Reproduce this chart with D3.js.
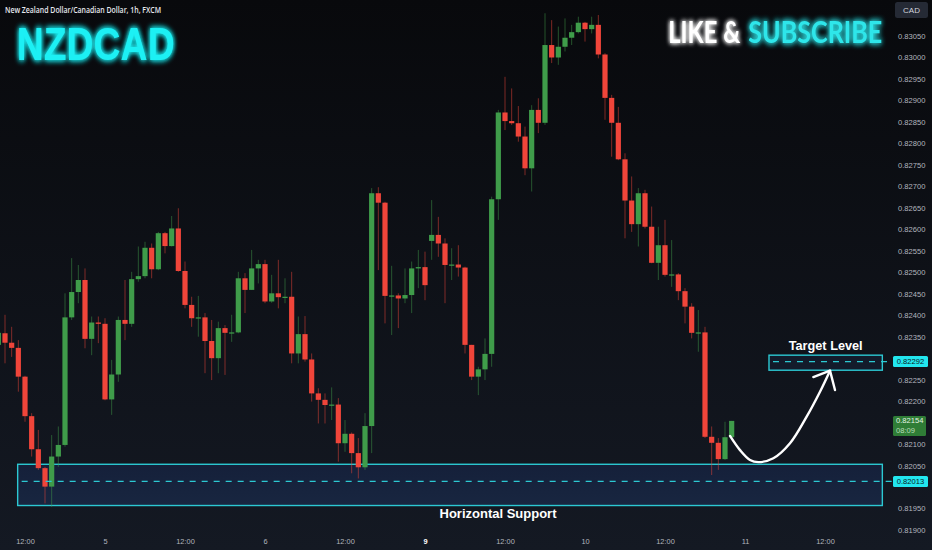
<!DOCTYPE html>
<html><head><meta charset="utf-8">
<script src="https://cdn.jsdelivr.net/npm/d3@7"></script>
<style>html,body{margin:0;padding:0;background:#0c0e13;overflow:hidden}</style>
</head><body><svg id="c" width="932" height="550"></svg>
<script>
// ---------------- DATA ----------------
const startIndex = -4; // hourly bar index of first candle (0 = day 4, 12:00)
const opens = [0.82331,0.82358,0.82336,0.82324,0.82257,0.82165,0.82088,0.82044,0.82001,0.82071,
0.82098,0.82395,0.82454,0.82482,0.82345,0.82383,0.82380,0.82204,0.82262,0.82389,
0.82380,0.82484,0.82491,0.82557,0.82507,0.82591,0.82561,0.82602,0.82503,0.82424,
0.82393,0.82395,0.82340,0.82300,0.82370,0.82359,0.82360,0.82486,0.82459,0.82509,
0.82519,0.82432,0.82451,0.82442,0.82443,0.82311,0.82356,0.82297,0.82218,0.82203,
0.82191,0.82192,0.82102,0.82124,0.82079,0.82046,0.82142,0.82684,0.82662,0.82445,
0.82446,0.82439,0.82447,0.82509,0.82512,0.82573,0.82587,0.82567,0.82517,0.82518,
0.82511,0.82331,0.82257,0.82274,0.82310,0.82670,0.82872,0.82852,0.82847,0.82816,
0.82742,0.82878,0.82848,0.83029,0.83000,0.83025,0.83046,0.83059,0.83081,0.83066,
0.83076,0.83007,0.82906,0.82848,0.82763,0.82667,0.82612,0.82684,0.82606,0.82522,
0.82563,0.82494,0.82495,0.82456,0.82420,0.82359,0.82360,0.82117,0.82103,0.82065,0.82116];
const highs = [0.82366,0.82401,0.82373,0.82342,0.82259,0.82172,0.82133,0.82047,0.82121,0.82141,
0.82451,0.82533,0.82517,0.82509,0.82397,0.82397,0.82393,0.82296,0.82397,0.82482,
0.82501,0.82560,0.82571,0.82567,0.82594,0.82594,0.82631,0.82649,0.82525,0.82443,
0.82445,0.82405,0.82389,0.82385,0.82377,0.82401,0.82501,0.82498,0.82552,0.82529,
0.82529,0.82494,0.82529,0.82486,0.82501,0.82397,0.82398,0.82311,0.82230,0.82218,
0.82232,0.82207,0.82156,0.82127,0.82114,0.82172,0.82696,0.82698,0.82664,0.82515,
0.82451,0.82509,0.82525,0.82552,0.82548,0.82668,0.82629,0.82579,0.82556,0.82563,
0.82513,0.82331,0.82280,0.82346,0.82676,0.82878,0.82955,0.82928,0.82887,0.82839,
0.82889,0.82905,0.83103,0.83087,0.83072,0.83091,0.83076,0.83095,0.83083,0.83095,
0.83099,0.83010,0.82913,0.82885,0.82777,0.82723,0.82696,0.82692,0.82653,0.82606,
0.82622,0.82575,0.82498,0.82463,0.82428,0.82412,0.82373,0.82141,0.82114,0.82152,0.82154];
const lows = [0.82319,0.82288,0.82303,0.82222,0.82152,0.82071,0.82040,0.81962,0.81954,0.82047,
0.82094,0.82389,0.82428,0.82323,0.82307,0.82335,0.82202,0.82168,0.82245,0.82342,
0.82373,0.82478,0.82486,0.82486,0.82505,0.82544,0.82560,0.82501,0.82416,0.82373,
0.82350,0.82265,0.82249,0.82265,0.82261,0.82338,0.82358,0.82405,0.82459,0.82474,
0.82428,0.82429,0.82416,0.82428,0.82288,0.82288,0.82292,0.82199,0.82148,0.82148,
0.82156,0.82059,0.82082,0.82032,0.82020,0.82040,0.82079,0.82505,0.82381,0.82354,
0.82370,0.82428,0.82405,0.82463,0.82435,0.82529,0.82536,0.82428,0.82482,0.82490,
0.82311,0.82249,0.82214,0.82249,0.82280,0.82622,0.82831,0.82843,0.82804,0.82726,
0.82688,0.82824,0.82843,0.82987,0.82983,0.83014,0.83029,0.83056,0.83037,0.83056,
0.82998,0.82855,0.82769,0.82761,0.82579,0.82594,0.82560,0.82602,0.82521,0.82482,
0.82490,0.82466,0.82435,0.82381,0.82346,0.82315,0.82114,0.82028,0.82040,0.82063,0.82116];
const closes = [0.82359,0.82336,0.82324,0.82257,0.82165,0.82088,0.82044,0.82001,0.82071,0.82098,
0.82395,0.82454,0.82482,0.82345,0.82383,0.82380,0.82204,0.82262,0.82389,0.82380,
0.82484,0.82491,0.82557,0.82507,0.82591,0.82561,0.82602,0.82503,0.82424,0.82393,
0.82395,0.82340,0.82300,0.82370,0.82359,0.82360,0.82486,0.82459,0.82509,0.82519,
0.82432,0.82451,0.82442,0.82443,0.82311,0.82356,0.82297,0.82218,0.82203,0.82191,
0.82192,0.82102,0.82124,0.82079,0.82046,0.82142,0.82684,0.82662,0.82445,0.82446,
0.82439,0.82447,0.82509,0.82512,0.82470,0.82587,0.82567,0.82517,0.82518,0.82511,
0.82331,0.82257,0.82274,0.82310,0.82670,0.82872,0.82852,0.82847,0.82816,0.82742,
0.82878,0.82848,0.83029,0.83000,0.83025,0.83046,0.83059,0.83081,0.83066,0.83076,
0.83007,0.82906,0.82848,0.82763,0.82667,0.82612,0.82684,0.82606,0.82522,0.82563,
0.82494,0.82495,0.82456,0.82420,0.82359,0.82360,0.82117,0.82103,0.82065,0.82116,0.82154];

const timeTickIndex  = [0, 12, 24, 36, 48, 60, 72, 84, 96, 108, 120];
const timeTickLabels = ["12:00","5","12:00","6","12:00","9","12:00","10","12:00","11","12:00"];
const priceTicks = [0.8190,0.8195,0.8200,0.8205,0.8210,0.8215,0.8220,0.8225,0.8230,0.8235,0.8240,
  0.8245,0.8250,0.8255,0.8260,0.8265,0.8270,0.8275,0.8280,0.8285,0.8290,0.8295,0.8300,0.8305];

const supportLevel = 0.82013, supportZone = [0.81957, 0.82053], supportZoneIdx = [-1.1, 128.6];
const targetLevel = 0.82292, targetZone = [0.82272, 0.82307], targetZoneIdx = [111.6, 128.6];
const lastPrice = 0.82154, countdown = "08:09";
const arrowIdx   = [105.75, 107.25, 108.75, 110, 112.25, 114.75, 117.25, 119.25, 120.75];
const arrowPrice = [0.82119, 0.82086, 0.82063, 0.82058, 0.82067, 0.82102, 0.82164, 0.82222, 0.82271];
const arrowHeadIdx = [118.25, 120.75, 121.5];
const arrowHeadPrice = [0.82256, 0.82271, 0.82226];

// ---------------- CHART ----------------
const svg = d3.select("#c");
const W = 932, H = 550;
const x = d3.scaleLinear().domain([0, 120]).range([25, 825]);
const y = d3.scaleLinear().domain([0.8190, 0.8305]).range([530, 36.02]);

const defs = svg.append("defs");
const bg = defs.append("linearGradient").attr("id","bg").attr("x1",0).attr("y1",0).attr("x2",0).attr("y2",1);
bg.append("stop").attr("offset","0%").attr("stop-color","#08090c");
bg.append("stop").attr("offset","100%").attr("stop-color","#141923");
const zg = defs.append("linearGradient").attr("id","zg").attr("x1",0).attr("y1",0).attr("x2",0).attr("y2",1);
zg.append("stop").attr("offset","0%").attr("stop-color","#15203a");
zg.append("stop").attr("offset","100%").attr("stop-color","#182640");
function glow(id, dev){
  const f = defs.append("filter").attr("id",id).attr("x","-20%").attr("y","-50%").attr("width","140%").attr("height","200%");
  f.append("feGaussianBlur").attr("in","SourceGraphic").attr("stdDeviation",dev).attr("result","b");
  const m = f.append("feMerge");
  m.append("feMergeNode").attr("in","b");
  m.append("feMergeNode").attr("in","b");
  m.append("feMergeNode").attr("in","SourceGraphic");
}
glow("glowC", 3.2); glow("glowW", 2.6);

// text fitted horizontally to a target width by scaling its group
function fitText(px, py, width, anchor, str, attrs){
  const grp = svg.append("g");
  const t = grp.append("text").attr("x",0).attr("y",0).attr("text-anchor",anchor).text(str);
  Object.entries(attrs).forEach(([k,v])=>t.attr(k,v));
  const nat = t.node().getComputedTextLength();
  const s = width / nat;
  grp.attr("transform", `translate(${px},${py}) scale(${s},1)`);
  return t;
}

svg.append("rect").attr("width",W).attr("height",H).attr("fill","url(#bg)");

// zones
const cyan = "#2cc9d3";
svg.append("rect").attr("x", x(supportZoneIdx[0])).attr("width", x(supportZoneIdx[1]) - x(supportZoneIdx[0]))
  .attr("y", y(supportZone[1])).attr("height", y(supportZone[0]) - y(supportZone[1]))
  .attr("fill","url(#zg)").attr("stroke",cyan).attr("stroke-width",1.4);
svg.append("rect").attr("x", x(targetZoneIdx[0])).attr("width", x(targetZoneIdx[1]) - x(targetZoneIdx[0]))
  .attr("y", y(targetZone[1])).attr("height", y(targetZone[0]) - y(targetZone[1]))
  .attr("fill","#131b2b").attr("stroke",cyan).attr("stroke-width",1.4);

// candles
const candles = opens.map((o,k)=>({i:startIndex+k, o, h:highs[k], l:lows[k], c:closes[k]}));
const green = "#3f9c4a", red = "#f0453a";
const g = svg.append("g");
g.selectAll("line.w").data(candles).join("line").attr("class","w")
  .attr("x1", d=>x(d.i)).attr("x2", d=>x(d.i)).attr("y1", d=>y(d.h)).attr("y2", d=>y(d.l))
  .attr("stroke", d=> d.c>=d.o ? green : red).attr("stroke-opacity",0.5).attr("stroke-width",1);
g.selectAll("rect.b").data(candles).join("rect").attr("class","b")
  .attr("x", d=>x(d.i)-2.6).attr("width",5.2)
  .attr("y", d=>y(Math.max(d.o,d.c)))
  .attr("height", d=>Math.max(1.2, Math.abs(y(d.o)-y(d.c))))
  .attr("fill", d=> d.c>=d.o ? green : red);

// dashed levels
[[supportLevel, supportZoneIdx[0]],[targetLevel, targetZoneIdx[0]]].forEach(([p, i0])=>{
  svg.append("line").attr("x1", x(i0)+4).attr("x2", 893).attr("y1", y(p)).attr("y2", y(p))
    .attr("stroke",cyan).attr("stroke-width",1.3).attr("stroke-dasharray","6,6");
});

// arrow
const pts = arrowIdx.map((d,k)=>[x(d), y(arrowPrice[k])]);
svg.append("path").attr("d", d3.line().curve(d3.curveCatmullRom)(pts))
  .attr("fill","none").attr("stroke","#ffffff").attr("stroke-width",2.4).attr("stroke-linecap","round");
const hp = arrowHeadIdx.map((d,k)=>[x(d), y(arrowHeadPrice[k])]);
svg.append("path").attr("d", d3.line()(hp)).attr("fill","none").attr("stroke","#ffffff")
  .attr("stroke-width",2.4).attr("stroke-linecap","round").attr("stroke-linejoin","round");

// annotation texts
const annFont = {"font-family":"Liberation Sans, Arial, sans-serif","font-weight":"bold","font-size":13,"fill":"#ffffff"};
fitText(x(111.6 + 8.5), y(targetZone[1]) - 5, 74, "middle", "Target Level", annFont);
fitText(498, y(supportZone[0]) + 12.5, 117, "middle", "Horizontal Support", annFont);

// price axis (tick labels covered by the price tags are hidden, as on the reference)
const axisFont = "Liberation Sans, Arial, sans-serif";
const tagPrices = [targetLevel, supportLevel, lastPrice];
const shownTicks = priceTicks.filter(p => tagPrices.every(t => Math.abs(y(p) - y(t)) > 8));
const ya = svg.append("g").attr("transform","translate(893,0)")
  .call(d3.axisRight(y).tickValues(shownTicks).tickFormat(d3.format(".5f")).tickSize(0).tickPadding(5));
ya.select(".domain").remove();
ya.selectAll("text").attr("fill","#b2b5be").attr("font-size",7.6).attr("font-family",axisFont);

// time axis
const xa = svg.append("g").attr("transform","translate(0,530)")
  .call(d3.axisBottom(x).tickValues(timeTickIndex).tickFormat((d,k)=>timeTickLabels[k]).tickSize(0).tickPadding(9));
xa.select(".domain").remove();
xa.selectAll("text").attr("font-size",7.4).attr("font-family",axisFont)
  .attr("font-weight",(d,k)=> timeTickLabels[k]==="9" ? "bold" : "normal")
  .attr("fill",(d,k)=> timeTickLabels[k]==="9" ? "#ffffff" : "#b2b5be");

// price labels
function priceLabel(p, fill, col){
  const yy = y(p);
  svg.append("rect").attr("x",893).attr("y",yy-5.5).attr("width",35).attr("height",11).attr("rx",1.5).attr("fill",fill);
  svg.append("text").attr("x",910.5).attr("y",yy+2.7).attr("text-anchor","middle").attr("font-size",7.6)
    .attr("font-family",axisFont).attr("fill",col).text(d3.format(".5f")(p));
}
priceLabel(targetLevel, "#22e6ee", "#0b1a22");
priceLabel(supportLevel, "#22e6ee", "#0b1a22");
const ly = y(lastPrice);
svg.append("rect").attr("x",893).attr("y",ly-4.8).attr("width",33).attr("height",20).attr("rx",1.5).attr("fill","#2f7d36");
svg.append("text").attr("x",896).attr("y",ly+2.6).attr("font-size",7.6).attr("font-family",axisFont)
  .attr("fill","#e3f3e3").text(d3.format(".5f")(lastPrice));
svg.append("text").attr("x",896).attr("y",ly+11.8).attr("font-size",7.6).attr("font-family",axisFont)
  .attr("fill","#b9dcb9").text(countdown);

// CAD box
svg.append("rect").attr("x",895).attr("y",2).attr("width",33).attr("height",16).attr("rx",2.5).attr("fill","#252a35");
svg.append("text").attr("x",911.5).attr("y",13).attr("text-anchor","middle").attr("font-size",8)
  .attr("font-family",axisFont).attr("fill","#d1d4dc").text("CAD");

// headers
fitText(5, 12.5, 156, "start", "New Zealand Dollar/Canadian Dollar, 1h, FXCM",
  {"font-size":8.4,"font-weight":600,"font-family":"Open Sans, Liberation Sans, sans-serif","fill":"#e6e8ee"});
fitText(16.7, 60, 158, "start", "NZDCAD",
  {"font-size":46,"font-weight":"bold","font-family":"Liberation Sans, Arial, sans-serif","fill":"#1ff0f4","filter":"url(#glowC)"});
fitText(668.3, 42.7, 72, "start", "LIKE &",
  {"font-size":31,"font-weight":"bold","font-family":"Lato, Liberation Sans, sans-serif","fill":"#ffffff","filter":"url(#glowW)"});
fitText(748.3, 42.7, 134, "start", "SUBSCRIBE",
  {"font-size":31,"font-weight":"bold","font-family":"Lato, Liberation Sans, sans-serif","fill":"#2ee6ea","filter":"url(#glowC)"});
</script></body></html>
